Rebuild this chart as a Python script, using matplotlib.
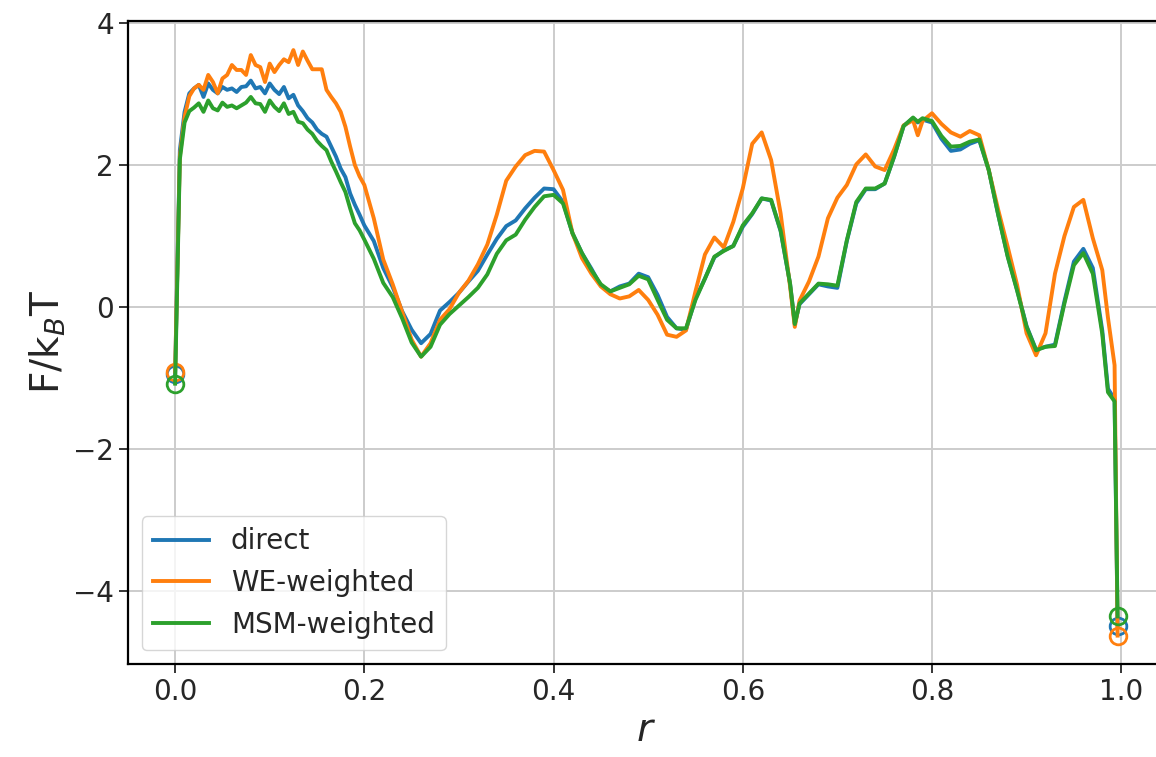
import numpy as np
import matplotlib
matplotlib.use("Agg")
import matplotlib.pyplot as plt

# r grid: fine steps near the start, 0.01 elsewhere, plus a few extra points at sharp features
r = np.concatenate([
    np.round(np.arange(0, 41) * 0.005, 3),
    np.round(np.arange(21, 66) * 0.01, 2),
    [0.655],
    np.round(np.arange(66, 79) * 0.01, 2),
    [0.785],
    np.round(np.arange(79, 99) * 0.01, 2),
    [0.986, 0.993, 0.9962],
])

direct = [
    -0.95, 2.21, 2.75, 3.01, 3.08, 3.13, 2.96, 3.15, 3.06, 3.01, 3.10, 3.06, 3.08, 3.03, 3.10, 3.11,
    3.19, 3.08, 3.10, 3.01, 3.15, 3.06, 3.00, 3.10, 2.94, 2.99, 2.84, 2.76, 2.66, 2.60, 2.50, 2.44,
    2.40, 2.26, 2.12, 1.95, 1.83, 1.60, 1.44, 1.30, 1.15,
    0.93, 0.55, 0.28, -0.06, -0.32, -0.51, -0.38, -0.05, 0.07, 0.20, 0.36, 0.51, 0.74, 0.96, 1.14,
    1.22, 1.39, 1.54, 1.67, 1.66, 1.48, 1.04, 0.76, 0.54, 0.30, 0.22, 0.29, 0.33, 0.47, 0.42, 0.17,
    -0.14, -0.30, -0.32, 0.12, 0.40, 0.70, 0.80, 0.86, 1.13, 1.31, 1.53, 1.50, 1.07, 0.33,
    -0.24,
    0.04, 0.18, 0.32, 0.29, 0.27, 0.93, 1.46, 1.66, 1.66, 1.74, 2.12, 2.55, 2.66,
    2.60,
    2.64, 2.60, 2.37, 2.20, 2.22, 2.30, 2.35, 1.93, 1.30, 0.72, 0.24, -0.27, -0.60, -0.56, -0.53,
    0.08, 0.64, 0.82, 0.55, -0.33,
    -1.15, -1.30, -4.49,
]

we_weighted = [
    -0.91, 2.12, 2.68, 2.97, 3.08, 3.13, 3.06, 3.27, 3.17, 3.01, 3.22, 3.27, 3.41, 3.34, 3.34, 3.27,
    3.55, 3.41, 3.38, 3.17, 3.43, 3.31, 3.41, 3.49, 3.45, 3.62, 3.41, 3.60, 3.47, 3.35, 3.35, 3.35,
    3.06, 2.96, 2.87, 2.75, 2.54, 2.26, 2.00, 1.84, 1.72,
    1.25, 0.67, 0.32, -0.07, -0.46, -0.70, -0.51, -0.18, -0.03, 0.20, 0.37, 0.60, 0.88, 1.30, 1.78,
    1.98, 2.14, 2.20, 2.19, 1.93, 1.65, 1.04, 0.69, 0.47, 0.29, 0.18, 0.12, 0.15, 0.24, 0.10, -0.11,
    -0.39, -0.42, -0.33, 0.22, 0.74, 0.98, 0.84, 1.20, 1.67, 2.30, 2.46, 2.07, 1.32, 0.29,
    -0.28,
    0.09, 0.36, 0.71, 1.25, 1.54, 1.72, 2.01, 2.15, 1.98, 1.93, 2.22, 2.56, 2.63,
    2.42,
    2.62, 2.73, 2.58, 2.46, 2.40, 2.48, 2.42, 1.93, 1.37, 0.85, 0.31, -0.37, -0.68, -0.37, 0.47,
    1.00, 1.41, 1.51, 0.97, 0.52,
    -0.15, -0.82, -4.63,
]

msm_weighted = [
    -1.08, 2.08, 2.60, 2.76, 2.81, 2.87, 2.75, 2.91, 2.80, 2.77, 2.88, 2.82, 2.84, 2.80, 2.84, 2.88,
    2.96, 2.87, 2.86, 2.75, 2.91, 2.82, 2.76, 2.87, 2.72, 2.75, 2.61, 2.59, 2.50, 2.44, 2.34, 2.27,
    2.21, 2.05, 1.91, 1.76, 1.62, 1.39, 1.18, 1.08, 0.95,
    0.68, 0.34, 0.14, -0.16, -0.50, -0.70, -0.56, -0.25, -0.10, 0.02, 0.14, 0.27, 0.46, 0.75, 0.94,
    1.02, 1.23, 1.41, 1.56, 1.58, 1.46, 1.04, 0.76, 0.52, 0.32, 0.22, 0.27, 0.32, 0.44, 0.39, 0.10,
    -0.18, -0.30, -0.30, 0.10, 0.40, 0.71, 0.79, 0.86, 1.15, 1.32, 1.53, 1.51, 1.08, 0.33,
    -0.24,
    0.05, 0.19, 0.33, 0.32, 0.30, 0.94, 1.48, 1.67, 1.67, 1.74, 2.12, 2.55, 2.67,
    2.61,
    2.66, 2.62, 2.41, 2.26, 2.27, 2.33, 2.36, 1.93, 1.30, 0.71, 0.23, -0.28, -0.61, -0.56, -0.55,
    0.05, 0.59, 0.76, 0.47, -0.38,
    -1.20, -1.33, -4.36,
]

series = [("direct", direct, "#1f77b4"),
          ("WE-weighted", we_weighted, "#ff7f0e"),
          ("MSM-weighted", msm_weighted, "#2ca02c")]

plt.rcParams["font.family"] = ["DejaVu Sans"]
plt.rcParams["text.color"] = "#262626"
plt.rcParams["axes.labelcolor"] = "#262626"
plt.rcParams["xtick.color"] = "#262626"
plt.rcParams["ytick.color"] = "#262626"

fig = plt.figure(figsize=(11.56, 7.57), dpi=100)
ax = fig.add_axes([128 / 1156, 1 - 664 / 757, 1037 / 1156, 643 / 757])

for name, vals, col in series:
    ax.plot(r, vals, color=col, lw=2.8, label=name)
    # open circles at both ends of each curve
    ax.plot([r[0], r[-1]], [vals[0], vals[-1]], "o", color=col, mfc="none",
            ms=12, mew=2)

ax.set_xlim(-0.0498, 1.0463)
ax.set_ylim(-5.03, 4.03)
ax.set_xticks([0.0, 0.2, 0.4, 0.6, 0.8, 1.0])
ax.set_yticks([-4, -2, 0, 2, 4])
ax.grid(True, color="#cccccc", lw=1.4)
ax.set_axisbelow(True)
ax.tick_params(labelsize=20, length=6.5, width=1.3, direction="out")
for s in ax.spines.values():
    s.set_linewidth(1.6)
    s.set_color("black")

ax.set_xlabel("$r$", fontsize=28)
ax.set_ylabel("F/k$_B$T", fontsize=28)
ax.legend(loc="lower left", fontsize=20, framealpha=0.8, edgecolor="#cccccc")

fig.savefig("out.png", dpi=100)
